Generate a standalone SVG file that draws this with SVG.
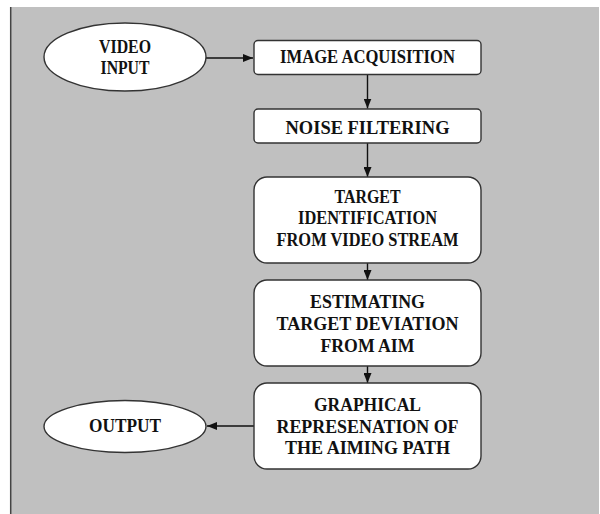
<svg xmlns="http://www.w3.org/2000/svg" width="600" height="514" viewBox="0 0 600 514">
<style>
.box{fill:#fff;stroke:#333;stroke-width:1.4}
.t{font-family:"Liberation Serif","Times New Roman",serif;font-weight:bold;font-size:19px;fill:#111;text-anchor:middle}
.c{stroke:#111;stroke-width:1.4;fill:none}
</style>
<defs>
<marker id="ah" viewBox="0 0 10 8" refX="10" refY="4" markerWidth="10" markerHeight="8" markerUnits="userSpaceOnUse" orient="auto">
<path d="M0,0 L10,4 L0,8 Z" fill="#111"/>
</marker>
</defs>
<rect x="0" y="0" width="600" height="514" fill="#fff"/>
<rect x="10" y="7" width="589" height="507" fill="#c0c0c0"/>
<line x1="10.7" y1="7" x2="10.7" y2="514" stroke="#444" stroke-width="1.5"/>
<g id="connectors">
<line class="c" x1="206" y1="58" x2="253" y2="58" marker-end="url(#ah)"/>
<line class="c" x1="367.5" y1="75" x2="367.5" y2="108.5" marker-end="url(#ah)"/>
<line class="c" x1="367.5" y1="143" x2="367.5" y2="177" marker-end="url(#ah)"/>
<line class="c" x1="367.5" y1="263" x2="367.5" y2="280" marker-end="url(#ah)"/>
<line class="c" x1="367.5" y1="366" x2="367.5" y2="383" marker-end="url(#ah)"/>
<line class="c" x1="254" y1="426" x2="207" y2="426" marker-end="url(#ah)"/>
</g>
<g id="video-input">
<ellipse class="box" cx="125" cy="57" rx="81" ry="34"/>
<text class="t" x="125" y="53" textLength="52" lengthAdjust="spacingAndGlyphs">VIDEO</text>
<text class="t" x="125" y="74" textLength="49" lengthAdjust="spacingAndGlyphs">INPUT</text>
</g>
<g id="image-acquisition">
<rect class="box" x="254" y="40.5" width="227" height="34" rx="4"/>
<text class="t" x="367.5" y="63" textLength="175" lengthAdjust="spacingAndGlyphs">IMAGE ACQUISITION</text>
</g>
<g id="noise-filtering">
<rect class="box" x="254" y="109" width="227" height="34" rx="4"/>
<text class="t" x="367.5" y="134" textLength="164" lengthAdjust="spacingAndGlyphs">NOISE FILTERING</text>
</g>
<g id="target-identification">
<rect class="box" x="254" y="177" width="227" height="86" rx="13"/>
<text class="t" x="367.5" y="203" textLength="66" lengthAdjust="spacingAndGlyphs">TARGET</text>
<text class="t" x="367.5" y="224" textLength="139" lengthAdjust="spacingAndGlyphs">IDENTIFICATION</text>
<text class="t" x="367.5" y="246" textLength="182" lengthAdjust="spacingAndGlyphs">FROM VIDEO STREAM</text>
</g>
<g id="estimating-deviation">
<rect class="box" x="254" y="280" width="227" height="86" rx="13"/>
<text class="t" x="367.5" y="308" textLength="115" lengthAdjust="spacingAndGlyphs">ESTIMATING</text>
<text class="t" x="367.5" y="330" textLength="182" lengthAdjust="spacingAndGlyphs">TARGET DEVIATION</text>
<text class="t" x="367.5" y="352" textLength="94" lengthAdjust="spacingAndGlyphs">FROM AIM</text>
</g>
<g id="graphical-representation">
<rect class="box" x="254" y="383" width="227" height="86" rx="13"/>
<text class="t" x="367.5" y="411" textLength="107" lengthAdjust="spacingAndGlyphs">GRAPHICAL</text>
<text class="t" x="367.5" y="433" textLength="182" lengthAdjust="spacingAndGlyphs">REPRESENATION OF</text>
<text class="t" x="367.5" y="454" textLength="165" lengthAdjust="spacingAndGlyphs">THE AIMING PATH</text>
</g>
<g id="output">
<ellipse class="box" cx="125" cy="426.5" rx="81" ry="26"/>
<text class="t" x="125" y="432" textLength="72" lengthAdjust="spacingAndGlyphs">OUTPUT</text>
</g>
</svg>
